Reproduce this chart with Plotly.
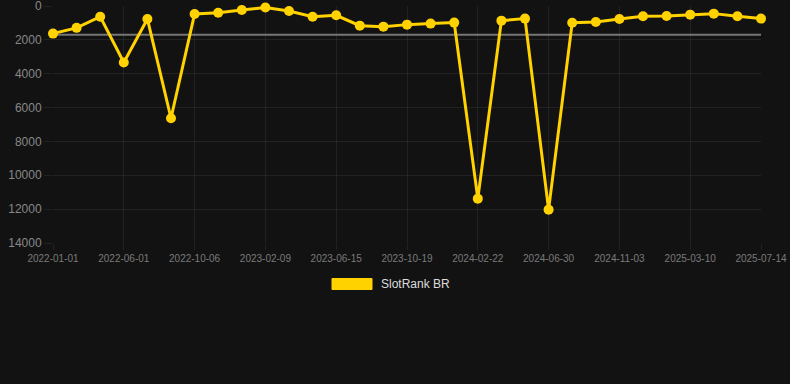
import plotly.graph_objects as go

dates = ["2022-01-01", "2022-02-20", "2022-04-11", "2022-06-01", "2022-07-13", "2022-08-24",
         "2022-10-06", "2022-11-17", "2022-12-29", "2023-02-09", "2023-03-23", "2023-05-04",
         "2023-06-15", "2023-07-27", "2023-09-07", "2023-10-19", "2023-11-30", "2024-01-11",
         "2024-02-22", "2024-04-04", "2024-05-17", "2024-06-30", "2024-08-11", "2024-09-22",
         "2024-11-03", "2024-12-15", "2025-01-26", "2025-03-10", "2025-04-21", "2025-06-02",
         "2025-07-14"]
rank = [1630, 1290, 630, 3335, 765, 6630, 470, 400, 240, 90, 290, 630, 550, 1160, 1220,
        1100, 1040, 980, 11380, 865, 745, 12030, 985, 945, 765, 610, 590, 510, 450, 610, 745]
average = 1700
tick_labels = dates[::3]
y_ticks = [0, 2000, 4000, 6000, 8000, 10000, 12000, 14000]
y_tick_text = [str(v) for v in y_ticks]
series_name = "SlotRank BR"

gold = "#ffd200"
grid = "rgba(255,255,255,0.07)"

fig = go.Figure()
fig.add_trace(go.Scatter(x=[dates[0], dates[-1]], y=[average, average], mode="lines",
                         line=dict(color="#767676", width=2), showlegend=False,
                         hoverinfo="skip"))
fig.add_trace(go.Scatter(x=dates, y=rank, mode="lines+markers", name=series_name,
                         line=dict(color=gold, width=3), marker=dict(color=gold, size=10),
                         cliponaxis=False, showlegend=False))

# legend swatch (Chart.js style box)
fig.add_shape(type="rect", xref="paper", yref="paper",
              x0=(332 - 53) / 708, x1=(372 - 53) / 708,
              y0=(243 - 289.5) / 237, y1=(243 - 278.5) / 237,
              fillcolor=gold, line=dict(color=gold, width=1))
fig.add_annotation(xref="paper", yref="paper", x=(379 - 53) / 708, y=(243 - 284) / 237,
                   text=series_name, showarrow=False, xanchor="left", yanchor="middle",
                   font=dict(family="Liberation Sans, Arial", size=12, color="#dddddd"))

fig.update_layout(
    width=790, height=384,
    margin=dict(l=53, r=29, t=6, b=141),
    paper_bgcolor="#121212", plot_bgcolor="#121212",
    showlegend=False,
    font=dict(family="Liberation Sans, Arial", color="#888888"),
)
fig.update_xaxes(type="category", categoryorder="array", categoryarray=dates,
                 range=[0, len(dates) - 1], tickmode="array",
                 tickvals=tick_labels, ticktext=tick_labels, automargin=False,
                 showgrid=True, gridcolor=grid, gridwidth=1,
                 ticks="outside", ticklen=6, tickcolor=grid,
                 tickfont=dict(size=10, color="#7a7a7a"), showline=False, zeroline=False)
fig.update_yaxes(range=[14000, -0.5], tickmode="array", tickvals=y_ticks, ticktext=y_tick_text,
                 showgrid=True, gridcolor=grid, gridwidth=1, automargin=False,
                 ticks="outside", ticklen=8, tickcolor=grid, ticklabeloverflow="allow",
                 tickfont=dict(size=12, color="#888888"), showline=False, zeroline=False)

fig.write_html("out.html", config={"displayModeBar": False},
               post_script="document.body.style.margin='0';document.body.style.background='#121212';")
